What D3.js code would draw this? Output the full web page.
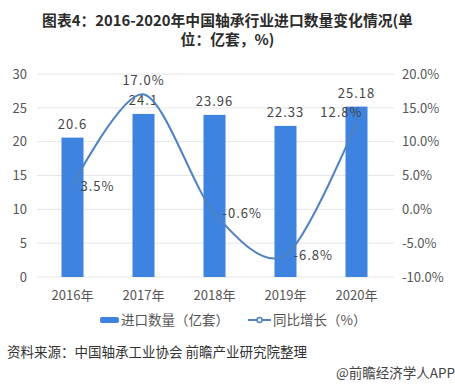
<!DOCTYPE html>
<html><head><meta charset="utf-8">
<script src="https://cdn.jsdelivr.net/npm/d3@7"></script>
<style>
body{margin:0;background:#fff;}
text{font-family:"Noto Sans CJK SC","Noto Sans",sans-serif;}
</style></head>
<body>
<svg id="c" width="455" height="384"></svg>
<script>
const categories = ["2016年","2017年","2018年","2019年","2020年"];
const importQty = [20.6, 24.1, 23.96, 22.33, 25.18];
const importLabels = ["20.6","24.1","23.96","22.33","25.18"];
const growth = [3.5, 17.0, -0.6, -6.8, 12.8];
const growthLabels = ["3.5%","17.0%","-0.6%","-6.8%","12.8%"];
const leftTicks = [0,5,10,15,20,25,30];
const rightTicks = [-10,-5,0,5,10,15,20];
const seriesNames = ["进口数量（亿套）","同比增长（%）"];
const titleLines = ["图表4：2016-2020年中国轴承行业进口数量变化情况(单","位：亿套，%)"];

const svg = d3.select("#c");
const W=455, H=384;
const m = {left:37, right:63, top:74, bottom:107};
const x = d3.scaleBand().domain(categories).range([m.left, W-m.right]).paddingInner(0.69).paddingOuter(0.345);
const yL = d3.scaleLinear().domain([0,30]).range([H-m.bottom, m.top]);
const yR = d3.scaleLinear().domain([-10,20]).range([H-m.bottom, m.top]);

const barColor="#3d83df", lineColor="#5082c2";

// title
svg.append("g").selectAll("text").data(titleLines).join("text")
  .attr("x",W/2).attr("y",(d,i)=>26+i*19).attr("text-anchor","middle")
  .attr("font-weight","bold").attr("font-size",14.8).attr("fill","#2b2b2b")
  .text(d=>d);

// grid
svg.append("g").selectAll("line").data(leftTicks).join("line")
  .attr("x1",m.left).attr("x2",W-m.right+2)
  .attr("y1",d=>yL(d)).attr("y2",d=>yL(d))
  .attr("stroke","#e6e6e6").attr("stroke-width",1);

// left axis
const gL = svg.append("g").attr("transform",`translate(${m.left-10},0)`)
  .call(d3.axisLeft(yL).tickValues(leftTicks).tickSize(0).tickPadding(0));
gL.select(".domain").remove();
gL.selectAll("text").attr("font-size",13).attr("fill","#555").attr("font-family","'Noto Sans CJK SC',sans-serif");

// right axis
const gR = svg.append("g").attr("transform",`translate(${W-m.right+10},0)`)
  .call(d3.axisRight(yR).tickValues(rightTicks).tickSize(0).tickPadding(0)
    .tickFormat(d=>d.toFixed(1)+"%"));
gR.select(".domain").remove();
gR.selectAll("text").attr("font-size",13).attr("fill","#555").attr("font-family","'Noto Sans CJK SC',sans-serif");

// x axis
const gX = svg.append("g").attr("transform",`translate(0,${H-m.bottom+11})`)
  .call(d3.axisBottom(x).tickSize(0).tickPadding(0));
gX.select(".domain").remove();
gX.selectAll("text").attr("font-size",13).attr("fill","#555").attr("dy","0.9em").attr("font-family","'Noto Sans CJK SC',sans-serif");

// bars
svg.append("g").selectAll("rect").data(importQty).join("rect")
  .attr("x",(d,i)=>x(categories[i])).attr("width",x.bandwidth())
  .attr("y",d=>yL(d)).attr("height",d=>yL(0)-yL(d))
  .attr("fill",barColor);

// bar labels
svg.append("g").selectAll("text").data(importQty).join("text")
  .attr("x",(d,i)=>x(categories[i])+x.bandwidth()/2)
  .attr("y",d=>yL(d)-9)
  .attr("text-anchor","middle").attr("font-size",13).attr("fill","#444")
  .attr("letter-spacing","1px")
  .text((d,i)=>importLabels[i]);

// line
const cx = i => x(categories[i])+x.bandwidth()/2;
const line = d3.line().x((d,i)=>cx(i)).y(d=>yR(d)).curve(d3.curveCardinal.tension(0.1));
svg.append("path").datum(growth).attr("d",line)
  .attr("fill","none").attr("stroke",lineColor).attr("stroke-width",2);

// line labels
svg.append("g").selectAll("text").data(growth).join("text")
  .attr("x",(d,i)=> i===1 ? cx(i) : (i===4 ? cx(i)+6 : cx(i)+8))
  .attr("y",(d,i)=> i===1 ? yR(d)-9 : (i===4 ? yR(d)-6 : yR(d)+5))
  .attr("text-anchor",(d,i)=> i===1 ? "middle" : (i===4 ? "end" : "start"))
  .attr("font-size",13).attr("fill","#444").attr("letter-spacing","1px")
  .text((d,i)=>growthLabels[i]);

// legend
const ly = 320;
svg.append("rect").attr("x",100).attr("y",ly-3).attr("width",19).attr("height",6).attr("rx",2).attr("fill",barColor);
svg.append("text").attr("x",121).attr("y",ly+5).attr("font-size",13.5).attr("fill","#555").text(seriesNames[0]);
svg.append("line").attr("x1",248).attr("x2",271).attr("y1",ly).attr("y2",ly).attr("stroke",lineColor).attr("stroke-width",2);
svg.append("circle").attr("cx",259.5).attr("cy",ly).attr("r",2.5).attr("fill","#fff").attr("stroke",lineColor).attr("stroke-width",1.5);
svg.append("text").attr("x",273).attr("y",ly+5).attr("font-size",13.5).attr("fill","#555").text(seriesNames[1]);

// source
svg.append("text").attr("x",7).attr("y",357).attr("font-size",13.5).attr("fill","#333")
  .text("资料来源：中国轴承工业协会 前瞻产业研究院整理");
svg.append("text").attr("x",455).attr("y",378).attr("text-anchor","end").attr("font-size",13.5).attr("fill","#444")
  .text("@前瞻经济学人APP");
</script>
</body></html>
